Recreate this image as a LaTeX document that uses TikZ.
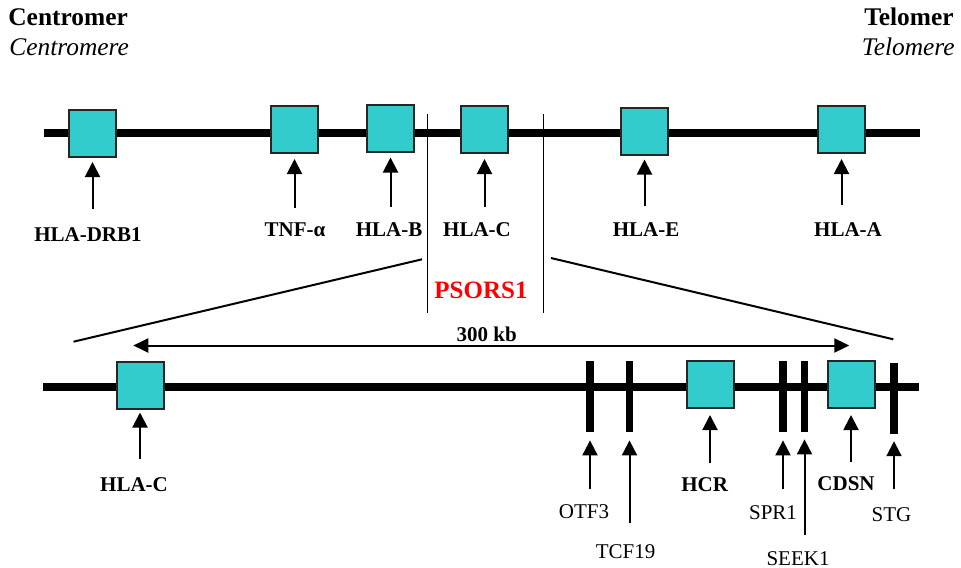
\documentclass[tikz,border=0pt]{standalone}
\usepackage{fontspec}
\setmainfont{Liberation Serif}
\newfontfamily\tnr{Liberation Serif}
\usetikzlibrary{arrows.meta}
\definecolor{genecyan}{RGB}{51,204,204}
\definecolor{psred}{RGB}{255,0,0}
\begin{document}
\begin{tikzpicture}[x=0.5pt,y=-0.5pt,
  gene/.style={draw=black!85, line width=1pt, fill=genecyan, minimum width=23.5pt, minimum height=23.5pt, inner sep=0pt},
  tick/.style={fill=black, draw=none, minimum width=3.85pt, minimum height=35.5pt, inner sep=0pt},
  chrom/.style={line width=4pt},
  arr/.style={line width=1pt, -{Triangle[length=7.5pt,width=7.5pt]}},
  dblarr/.style={line width=1pt, {Triangle[length=7.5pt,width=7pt]}-{Triangle[length=7.5pt,width=7pt]}},
  thin/.style={line width=0.5pt},
  slant/.style={line width=1pt},
  lblb/.style={font=\tnr\fontsize{10.5}{12}\selectfont\bfseries, inner sep=0pt, anchor=base},
  lblr/.style={font=\tnr\fontsize{10.5}{12}\selectfont, inner sep=0pt, anchor=base},
  ttlb/.style={font=\tnr\fontsize{12.7}{15}\selectfont\bfseries, inner sep=0pt},
  ttli/.style={font=\tnr\fontsize{12.7}{15}\selectfont\itshape, inner sep=0pt}
]
\useasboundingbox (0,0) rectangle (961,567);

% titles
\node[ttlb, anchor=base west] (cen) at (8,26) {Centromer};
\node[ttli, anchor=base west] (cene) at (9,55) {Centromere};
\node[ttlb, anchor=base east] (tel) at (954,26) {Telomer};
\node[ttli, anchor=base east] (tele) at (955,55) {Telomere};

% top chromosome
\coordinate (tL) at (44,133);
\coordinate (tR) at (920,133);
\draw[chrom] (tL) -- (tR);

% PSORS1 region verticals
\coordinate (v1t) at (427.5,114);
\coordinate (v1b) at (427.5,313);
\coordinate (v2t) at (543.5,114);
\coordinate (v2b) at (543.5,313);
\draw[thin] (v1t) -- (v1b);
\draw[thin] (v2t) -- (v2b);

\node[gene] (DRB) at (92.5,133.5) {};
\node[gene] (TNF) at (294.5,129.5) {};
\node[gene] (HB) at (390.5,128) {};
\node[gene] (HC) at (484.5,129.5) {};
\node[gene] (HE) at (644.5,131) {};
\node[gene] (HA) at (841.5,129.5) {};

\coordinate (aDRB) at (92.5,209);
\coordinate (aTNF) at (294.5,208);
\coordinate (aHB) at (390.5,207);
\coordinate (aHC) at (484.5,207);
\coordinate (aHE) at (644.5,206);
\coordinate (aHA) at (841.5,205);
\draw[arr] (aDRB) -- ([yshift=-2pt]DRB.south);
\draw[arr] (aTNF) -- ([yshift=-2.5pt]TNF.south);
\draw[arr] (aHB) -- ([yshift=-2.5pt]HB.south);
\draw[arr] (aHC) -- ([yshift=-2.5pt]HC.south);
\draw[arr] (aHE) -- ([yshift=-2pt]HE.south);
\draw[arr] (aHA) -- ([yshift=-2.5pt]HA.south);

\node[lblb] (lDRB) at (88,241.7) {HLA-DRB1};
\node[lblb] (lTNF) at (295,236.7) {TNF-α};
\node[lblb] (lHB) at (389,236.7) {HLA-B};
\node[lblb] (lHC) at (477,236.7) {HLA-C};
\node[lblb] (lHE) at (646,236.7) {HLA-E};
\node[lblb] (lHA) at (848,236) {HLA-A};

% zoom lines
\coordinate (s1a) at (73.5,341.7);
\coordinate (s1b) at (422,259.3);
\coordinate (s2a) at (551,258);
\coordinate (s2b) at (893.3,339.3);
\draw[slant] (s1a) -- (s1b);
\draw[slant] (s2a) -- (s2b);

\node[font=\tnr\fontsize{12.5}{15}\selectfont\bfseries, text=psred, inner sep=0pt, anchor=base] (ps) at (481,298.3) {PSORS1};
\node[lblb] (kb) at (486.7,341.7) {300 kb};

\coordinate (dL) at (133.3,345.5);
\coordinate (dR) at (849.3,345.5);
\draw[dblarr] (dL) -- (dR);

% bottom chromosome
\coordinate (bL) at (43.3,386.7);
\coordinate (bR) at (919,386.7);
\draw[chrom] (bL) -- (bR);

\node[gene] (HC2) at (140,385) {};
\node[gene] (HCR) at (710,384.5) {};
\node[gene] (CDSN) at (851,384.5) {};
\node[tick] (OTF) at (590,396.5) {};
\node[tick] (TCF) at (629.5,396.5) {};
\node[tick] (SPR) at (783,396.5) {};
\node[tick] (SEEK) at (804.5,396.5) {};
\node[tick] (STG) at (894,398.3) {};

\coordinate (aHC2) at (140,459.3);
\coordinate (aOTF) at (590,489);
\coordinate (aTCF) at (629.5,523);
\coordinate (aHCR) at (710,462.5);
\coordinate (aSPR) at (783,489);
\coordinate (aSEEK) at (804.5,535);
\coordinate (aCDSN) at (851,462.3);
\coordinate (aSTG) at (894,489);
\draw[arr] (aHC2) -- ([yshift=-1.5pt]HC2.south);
\draw[arr] (aOTF) -- ([yshift=-4pt]OTF.south);
\draw[arr] (aTCF) -- ([yshift=-4pt]TCF.south);
\draw[arr] (aHCR) -- ([yshift=-3pt]HCR.south);
\draw[arr] (aSPR) -- ([yshift=-4pt]SPR.south);
\draw[arr] (aSEEK) -- ([yshift=-3.5pt]SEEK.south);
\draw[arr] (aCDSN) -- ([yshift=-3pt]CDSN.south);
\draw[arr] (aSTG) -- ([yshift=-3.5pt]STG.south);

\node[lblb] (lHC2) at (134,491) {HLA-C};
\node[lblr] (lOTF) at (584,518) {OTF3};
\node[lblr] (lTCF) at (625.5,558) {TCF19};
\node[lblb] (lHCR) at (704.7,491) {HCR};
\node[lblr] (lSPR) at (773,519) {SPR1};
\node[lblr] (lSEEK) at (798,565) {SEEK1};
\node[lblb] (lCDSN) at (846,490.7) {CDSN};
\node[lblr] (lSTG) at (891.5,521.7) {STG};
\end{tikzpicture}
\end{document}
